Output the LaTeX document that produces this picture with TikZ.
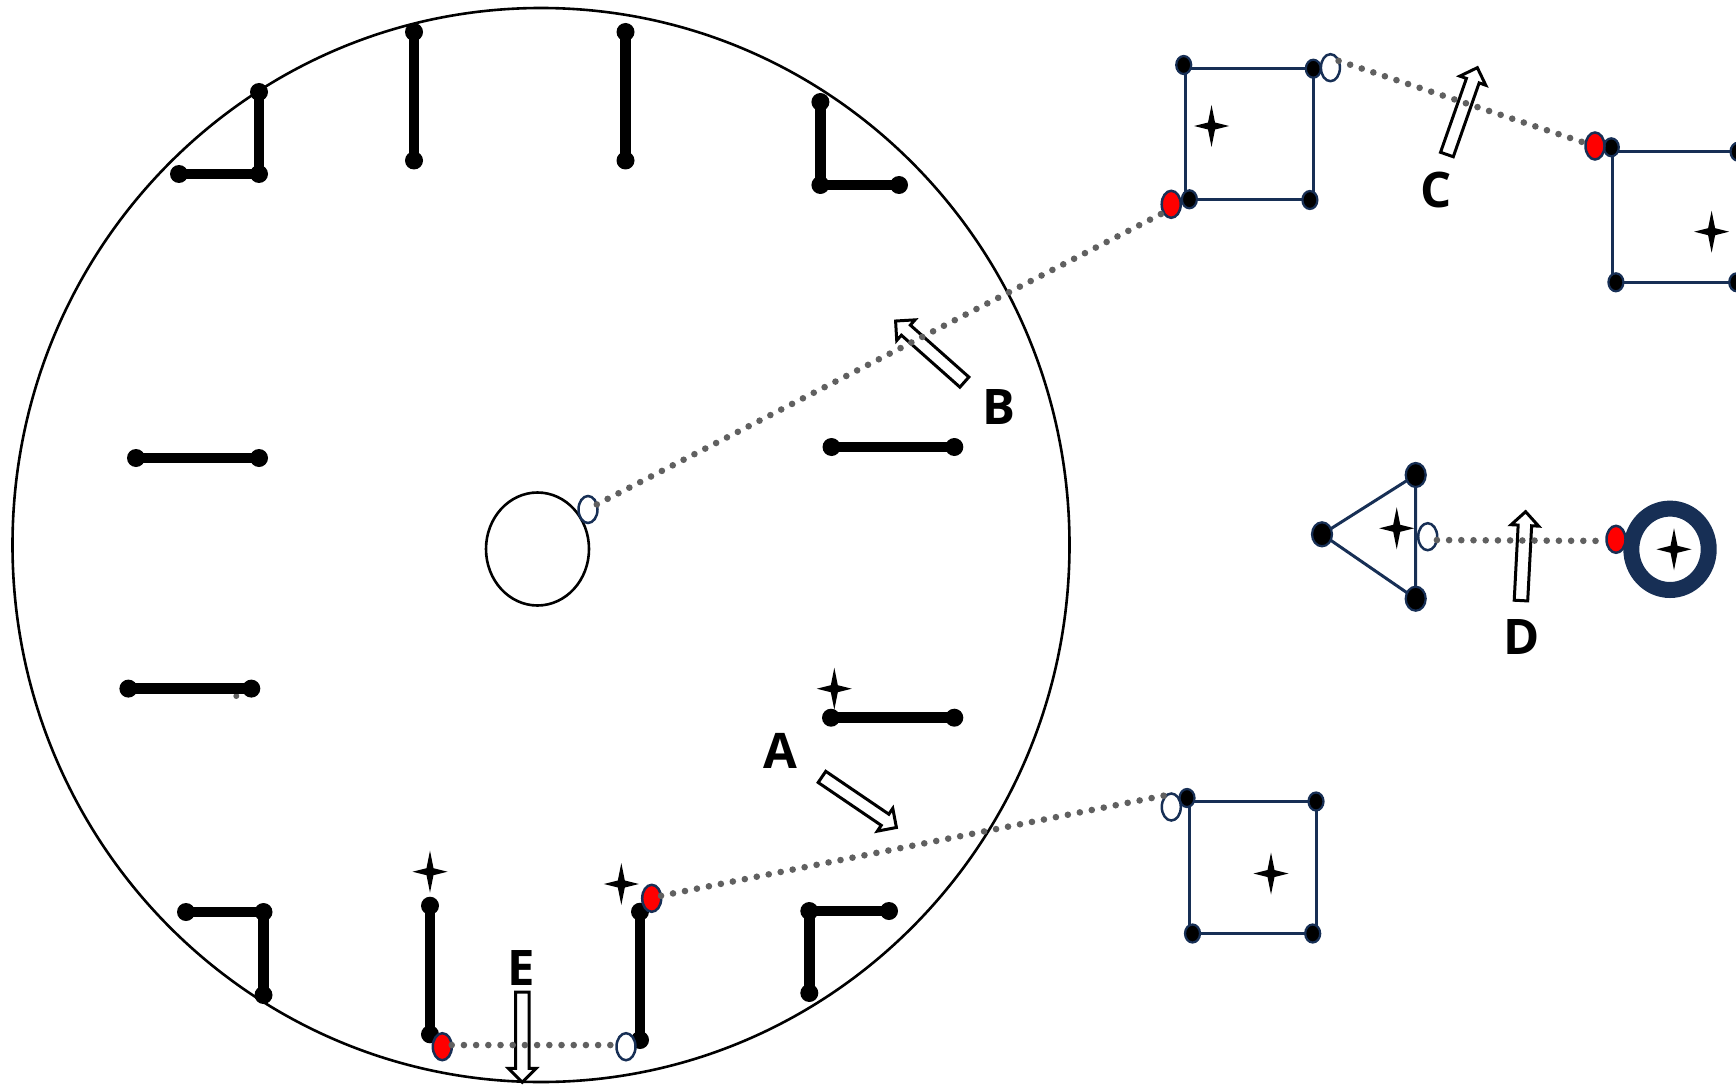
\documentclass[tikz,border=0pt]{standalone}
\usepackage{fontspec}
\setmainfont{Open Sans}
\usetikzlibrary{shapes.geometric,shapes.arrows}
\definecolor{navy}{HTML}{172F55}
\definecolor{dotgrey}{HTML}{606060}
\tikzset{
  bigring/.style={ellipse,draw=black,line width=2.6pt,inner sep=0pt,outer sep=0pt},
  bar/.style={line width=10.5pt,black},
  bardot/.style={circle,fill=black,inner sep=0pt,outer sep=0pt,minimum size=18pt},
  corner/.style={ellipse,fill=black,draw=navy,line width=2.2pt,inner sep=0pt,outer sep=0pt,minimum width=15pt,minimum height=18pt},
  bigcorner/.style={corner,minimum width=20pt,minimum height=24pt},
  frame/.style={draw=navy,line width=3pt},
  portred/.style={ellipse,fill=red,draw=navy,line width=2.5pt,inner sep=0pt,outer sep=0pt,minimum width=19pt,minimum height=27pt},
  portwhite/.style={portred,fill=white},
  link/.style={draw=dotgrey,line width=6.6pt,line cap=round,dash pattern=on 0pt off 12.2pt},
  speck/.style={circle,fill=dotgrey,inner sep=0pt,outer sep=0pt,minimum size=6pt},
  hollow/.style={single arrow,draw=black,fill=white,line width=3pt,inner sep=0pt,outer sep=0pt,text height=10.5pt,text depth=0pt,minimum width=24.5pt,single arrow head extend=7pt,single arrow head indent=0pt},
  letter/.style={inner sep=0pt,font=\fontsize{49}{49}\selectfont\bfseries},
  fourstar/.pic={\fill[black] (-17.5,0)--(-3.5,-3.5)--(0,-21)--(3.5,-3.5)--(17.5,0)--(3.5,3.5)--(0,21)--(-3.5,3.5)--cycle;}
}
\begin{document}
\begin{tikzpicture}[x=1pt,y=-1pt]
\useasboundingbox (0,0) rectangle (1736,1086);
% large disc and hub
\node[bigring,minimum width=1057pt,minimum height=1074pt] (disc) at (541,545) {};
\node[bigring,minimum width=103pt,minimum height=113pt] (hub) at (537.5,549) {};
% bars in the disc
\node[bardot] (a1) at (259,92) {}; \node[bardot] (a2) at (259,174) {}; \node[bardot] (a3) at (179,174) {};
\draw[bar] (a1.center)--(a2.center)--(a3.center);
\node[bardot] (b1) at (414,32) {}; \node[bardot] (b2) at (414,160.5) {};
\draw[bar] (b1.center)--(b2.center);
\node[bardot] (c1) at (625.5,32) {}; \node[bardot] (c2) at (625.5,160.5) {};
\draw[bar] (c1.center)--(c2.center);
\node[bardot] (d1) at (820.4,102) {}; \node[bardot] (d2) at (820.4,185) {}; \node[bardot] (d3) at (899,185) {};
\draw[bar] (d1.center)--(d2.center)--(d3.center);
\node[bardot] (e1) at (831.5,447) {}; \node[bardot] (e2) at (954.3,447) {};
\draw[bar] (e1.center)--(e2.center);
\node[bardot] (f1) at (136,458) {}; \node[bardot] (f2) at (259,458) {};
\draw[bar] (f1.center)--(f2.center);
\node[speck] (g0) at (236.3,696) {};
\node[bardot] (g1) at (128.4,688.6) {}; \node[bardot] (g2) at (251.3,688.6) {};
\draw[bar] (g1.center)--(g2.center);
\node[bardot] (h1) at (831,717.7) {}; \node[bardot] (h2) at (954.3,717.7) {};
\draw[bar] (h1.center)--(h2.center);
\node[bardot] (i1) at (186,912) {}; \node[bardot] (i2) at (263.5,912) {}; \node[bardot] (i3) at (263.5,995) {};
\draw[bar] (i1.center)--(i2.center)--(i3.center);
\node[bardot] (j1) at (430,905.7) {}; \node[bardot] (j2) at (430,1034.3) {};
\draw[bar] (j1.center)--(j2.center);
\node[bardot] (k1) at (640,911.7) {}; \node[bardot] (k2) at (640,1040) {};
\draw[bar] (k1.center)--(k2.center);
\node[bardot] (l1) at (889,911) {}; \node[bardot] (l2) at (809.3,911) {}; \node[bardot] (l3) at (809.3,993) {};
\draw[bar] (l1.center)--(l2.center)--(l3.center);
% squares
\draw[frame] (1185.6,68.7) rectangle (1313.3,199.3);
\node[corner] (s1a) at (1183.7,65) {}; \node[corner] (s1b) at (1313.3,68.7) {};
\node[corner] (s1c) at (1189.4,199.3) {}; \node[corner] (s1d) at (1309.9,200) {};
\draw[frame] (1612.4,151.7) rectangle (1737,282.3);
\node[corner] (s2a) at (1611.3,147.3) {}; \node[corner] (s2b) at (1738,151.7) {};
\node[corner] (s2c) at (1615.9,282.3) {}; \node[corner] (s2d) at (1736.7,282.3) {};
\draw[frame] (1189,801.5) rectangle (1316.4,933);
\node[corner] (s3a) at (1187,798) {}; \node[corner] (s3b) at (1316,801.5) {};
\node[corner] (s3c) at (1192.5,933.5) {}; \node[corner] (s3d) at (1312.7,933.5) {};
% triangle and ring
\draw[frame] (1322,534.3) coordinate (t1c)--(1415.7,475) coordinate (t2c)--(1415.7,598.7) coordinate (t3c)--cycle;
\node[bigcorner] (t1) at (t1c) {}; \node[bigcorner] (t2) at (t2c) {}; \node[bigcorner] (t3) at (t3c) {};
\node[ellipse,draw=navy,line width=16pt,inner sep=0pt,outer sep=0pt,minimum width=77.4pt,minimum height=81.4pt] (ring) at (1670,549.3) {};
% stars
\pic at (1211.5,126) {fourstar};
\pic at (1711.6,231.7) {fourstar};
\pic at (1271,873.5) {fourstar};
\pic at (1396.7,528.3) {fourstar};
\pic at (1674,549.3) {fourstar};
\pic at (834.3,688.7) {fourstar};
\pic at (430,871.7) {fourstar};
\pic at (621.3,884) {fourstar};
% hollow arrows
\node[hollow,minimum height=90pt,rotate=-34.2] (arrA) at (856.4,800.3) {};
\node[hollow,minimum height=92pt,rotate=138.4] (arrB) at (932.5,353.8) {};
\node[hollow,minimum height=92pt,rotate=70.7] (arrC) at (1461,114.3) {};
\node[hollow,minimum height=89pt,rotate=87] (arrD) at (1523.1,559.5) {};
\node[hollow,minimum height=90pt,rotate=-90] (arrE) at (522.3,1033.8) {};
% ports
\node[portwhite] (wHub) at (588,509.5) {};
\node[portred] (rTop) at (1171.2,204.3) {};
\node[portwhite] (wTop) at (1330.4,67.7) {};
\node[portred] (rRight) at (1595,146) {};
\node[portwhite] (wTri) at (1427.7,536.7) {};
\node[portred] (rRing) at (1616,539.3) {};
\node[portred] (rA) at (651.7,898.3) {};
\node[portwhite] (wA) at (1171.3,807) {};
\node[portred] (rE) at (442.3,1046.7) {};
\node[portwhite] (wE) at (626,1046.7) {};
% dotted links
\draw[link] (wHub.30)--(rTop.228);
\draw[link] (wTop.40)--(rRight.163);
\draw[link] (wTri.-20)--(rRing.190);
\draw[link] (rA.15)--(wA.110);
\draw[link] (rE.10)--(wE.170);
% letters
\node[letter] (lA) at (780,750.7) {A};
\node[letter] (lB) at (998.6,407.4) {B};
\node[letter] (lC) at (1436.5,190) {C};
\node[letter] (lD) at (1521.7,636.7) {D};
\node[letter] (lE) at (521.7,968.3) {E};
\end{tikzpicture}
\end{document}
